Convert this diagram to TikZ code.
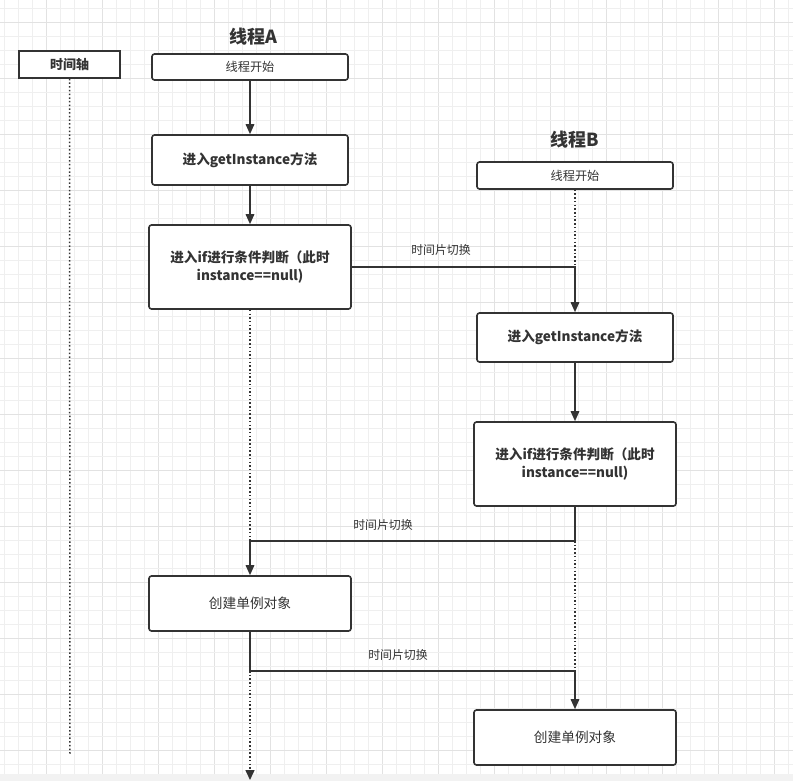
\documentclass[tikz,border=0pt]{standalone}
\usepackage{fontspec}
\setmainfont{Noto Sans CJK SC}
\usetikzlibrary{arrows.meta}
\definecolor{ink}{HTML}{333333}
\definecolor{gridminor}{HTML}{EFEFEF}
\definecolor{gridmajor}{HTML}{E2E2E2}
\definecolor{strip}{HTML}{F2F2F2}
\tikzset{
  box/.style={draw=ink, line width=1.6pt, rounded corners=2.5pt, fill=white, align=center, text=ink, inner sep=0pt},
  sbox/.style={draw=ink, line width=1.6pt, fill=white, align=center, text=ink, inner sep=0pt},
  conn/.style={draw=ink, line width=1.6pt, -{Triangle[length=10pt,width=8.5pt]}},
  dots/.style={draw=ink, line width=1.5pt, dash pattern=on 1.5pt off 2.2pt},
  lbl/.style={text=ink, font=\fontsize{11.9}{14}\selectfont, inner sep=0pt},
  ttl/.style={text=ink, font=\fontsize{18}{20}\selectfont\bfseries, inner sep=0pt},
  small/.style={font=\fontsize{12.2}{14}\selectfont},
  bold/.style={font=\fontsize{13.6}{18}\selectfont\bfseries},
  reg/.style={font=\fontsize{13.7}{18}\selectfont},
}
\begin{document}
\begin{tikzpicture}[x=1pt,y=-1pt]
\useasboundingbox (0,0) rectangle (793,781);
\fill[white] (0,0) rectangle (793,781);
% grid
\foreach \k in {0,...,56} {
  \pgfmathsetmacro{\gx}{4+14*\k}
  \pgfmathtruncatemacro{\m}{mod(\k,4)}
  \ifnum\m=3 \draw[gridmajor, line width=0.9pt] (\gx,0) -- (\gx,781);
  \else \draw[gridminor, line width=0.9pt] (\gx,0) -- (\gx,781); \fi
}
\foreach \k in {0,...,55} {
  \pgfmathsetmacro{\gy}{8.3+14*\k}
  \pgfmathtruncatemacro{\m}{mod(\k,4)}
  \ifnum\m=1 \draw[gridmajor, line width=0.9pt] (0,\gy) -- (793,\gy);
  \else \draw[gridminor, line width=0.9pt] (0,\gy) -- (793,\gy); \fi
}
\fill[strip] (0,774) rectangle (793,781);

% titles
\node[ttl] (ta) at (253,37) {线程A};
\node[ttl] (tb) at (575,140) {线程B};

% time axis
\node[sbox, minimum width=101pt, minimum height=27pt, font=\fontsize{13}{15}\selectfont\bfseries] (tl) at (69.5,64.5) {时间轴};
\coordinate (tlend) at (70,754);
\draw[dots] (tl.south) -- (tlend);

% thread A
\node[box, small, minimum width=196pt, minimum height=26pt] (a1) at (250,67) {线程开始};
\node[box, bold, minimum width=196pt, minimum height=50pt] (a2) at (250,160) {进入getInstance方法};
\node[box, bold, minimum width=202pt, minimum height=84pt] (a3) at (250,267) {进入if进行条件判断（此时\\instance==null)};
\node[box, reg, minimum width=202pt, minimum height=55pt] (a4) at (250,603.5) {创建单例对象};

% thread B
\node[box, small, minimum width=196pt, minimum height=27pt] (b1) at (575,175.5) {线程开始};
\node[box, bold, minimum width=196pt, minimum height=49pt] (b2) at (575,337.5) {进入getInstance方法};
\node[box, bold, minimum width=202pt, minimum height=84pt] (b3) at (575,464) {进入if进行条件判断（此时\\instance==null)};
\node[box, reg, minimum width=202pt, minimum height=55pt] (b4) at (575,737.5) {创建单例对象};

% coordinates
\coordinate (e1) at (575,267);
\coordinate (e2) at (250,541);
\coordinate (e2b) at (575,541);
\coordinate (e3) at (250,671);
\coordinate (e3b) at (575,671);
\coordinate (aend) at (250,780);

% connectors
\draw[conn] (a1) -- (a2);
\draw[conn] (a2) -- (a3);
\draw[dots] (b1.south) -- (e1);
\draw[conn] (a3.east) -- (e1) -- (b2.north);
\draw[conn] (b2) -- (b3);
\draw[dots] (a3.south) -- (e2);
\draw[conn] (b3.south) -- (e2b) -- (e2) -- (a4.north);
\draw[dots] (e2b) -- (e3b);
\draw[conn] (a4.south) -- (e3) -- (e3b) -- (b4.north);
\draw[dots, -{Triangle[length=10pt,width=9pt]}] (e3) -- (aend);

% labels
\node[lbl] (l1) at (441,250) {时间片切换};
\node[lbl] (l2) at (383,525) {时间片切换};
\node[lbl] (l3) at (398,655) {时间片切换};
\end{tikzpicture}
\end{document}
